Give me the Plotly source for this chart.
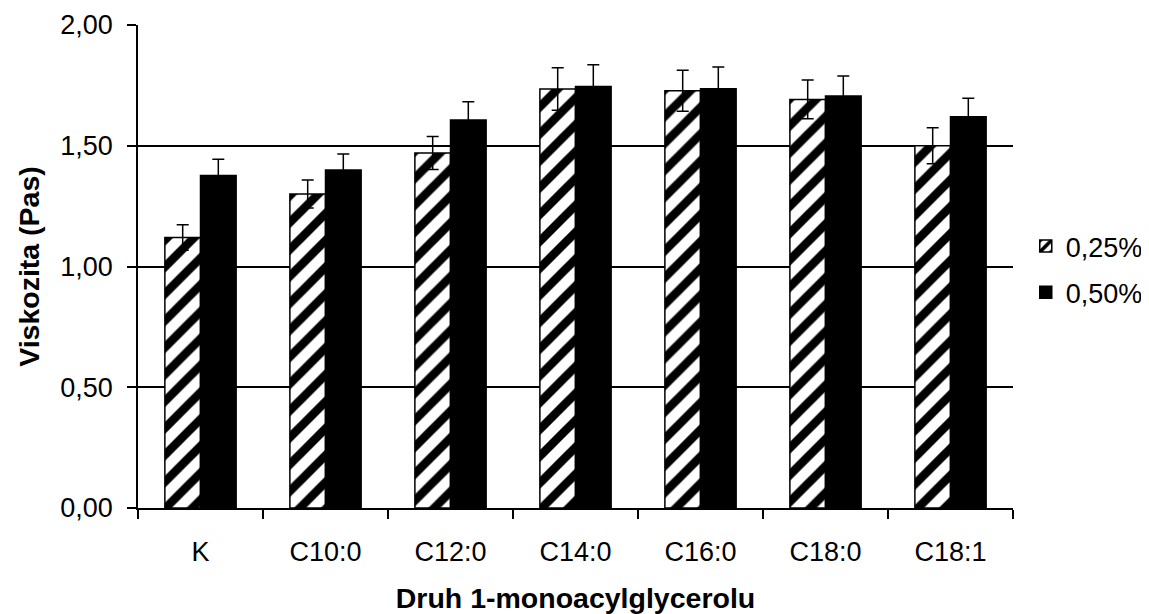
import plotly.graph_objects as go

categories = ["K", "C10:0", "C12:0", "C14:0", "C16:0", "C18:0", "C18:1"]
vals_025 = [1.12, 1.30, 1.47, 1.735, 1.728, 1.692, 1.50]
err_025 = [0.053, 0.058, 0.068, 0.088, 0.085, 0.08, 0.075]
vals_050 = [1.377, 1.40, 1.607, 1.745, 1.736, 1.706, 1.62]
err_050 = [0.067, 0.066, 0.075, 0.09, 0.09, 0.083, 0.077]

FONT = "Liberation Sans, Arial, sans-serif"

fig = go.Figure()
fig.add_trace(go.Bar(
    name="0,25%", x=categories, y=vals_025, legendgroup="a",
    marker=dict(color="white", line=dict(color="black", width=1.5),
                pattern=dict(shape="/", fgcolor="#000000", bgcolor="#ffffff",
                             fgopacity=1, fillmode="replace", size=19, solidity=0.45)),
    error_y=dict(type="data", array=err_025, color="black", thickness=1.5, width=6),
))
fig.add_trace(go.Bar(
    name="0,50%", x=categories, y=vals_050, legendgroup="b",
    marker=dict(color="black", line=dict(color="black", width=1.5)),
    error_y=dict(type="data", array=err_050, color="black", thickness=1.5, width=6),
))

fig.update_layout(
    width=1141, height=606,
    margin=dict(l=130, r=136, t=17, b=106, autoexpand=False),
    paper_bgcolor="white", plot_bgcolor="white",
    barmode="group", bargap=0.43, bargroupgap=0,
    separators=", ",
    font=dict(family=FONT, size=27, color="black"),
    legend=dict(xref="container", yref="container", x=0.892, y=0.5685,
                xanchor="left", yanchor="middle",
                font=dict(size=27), tracegroupgap=8),
    showlegend=True,
)
fig.update_xaxes(
    automargin=False,
    showline=True, linecolor="black", linewidth=1.5,
    ticks="outside", ticklen=9, tickcolor="black", tickwidth=1.5,
    tickson="boundaries", showgrid=False, ticklabelstandoff=19,
    title=dict(text="<b>Druh 1-monoacylglycerolu</b>", font=dict(size=28.5), standoff=28),
)
fig.update_yaxes(
    automargin=False,
    range=[0, 2.0], dtick=0.5, tickformat=".2f",
    showline=True, linecolor="black", linewidth=1.5,
    ticks="outside", ticklen=9, tickcolor="black", tickwidth=1.5, ticklabelstandoff=9,
    showgrid=True, gridcolor="black", gridwidth=1.5, zeroline=False,
    title=dict(text="<b>Viskozita (Pas)</b>", font=dict(size=28.5), standoff=12),
)
fig.write_html("out.html")
